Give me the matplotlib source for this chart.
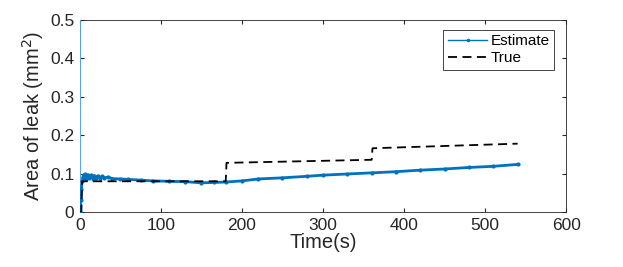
import matplotlib
matplotlib.use("Agg")
import matplotlib.pyplot as plt
from matplotlib.lines import Line2D

plt.rcParams['font.family'] = ['Liberation Sans', 'DejaVu Sans']

# estimate of leak area over time
est_t = [0, 0.3, 1, 2, 3, 4, 5, 6, 7, 8, 10, 12, 14, 16, 18, 20, 22, 25, 28, 30,
         35, 40, 50, 60, 75, 90, 110, 130, 150, 165, 180, 200, 220, 250, 280,
         300, 330, 360, 390, 420, 450, 480, 510, 540]
est_a = [0.6, 0.0, 0.03, 0.06, 0.08, 0.09, 0.097, 0.088, 0.098, 0.086, 0.097, 0.088,
         0.096, 0.087, 0.095, 0.089, 0.094, 0.088, 0.093, 0.089,
         0.091, 0.087, 0.086, 0.085, 0.083, 0.081, 0.080, 0.079, 0.076, 0.077,
         0.078, 0.081, 0.086, 0.089, 0.093, 0.096, 0.099, 0.102, 0.105,
         0.109, 0.112, 0.116, 0.119, 0.124]

# true leak area
true_t = [0, 2, 3, 180, 181, 360, 361, 540]
true_a = [0, 0.0, 0.08, 0.08, 0.128, 0.136, 0.166, 0.178]

fig = plt.figure(figsize=(6.23, 2.67), dpi=100)
ax = fig.add_axes([0.128, 0.206, 0.781, 0.719])

# first near-vertical drop from the initial guess (drawn thinner, like the reference)
ax.plot(est_t[:2], est_a[:2], color="#5DA9E0", lw=1.6, zorder=3)
ax.plot(est_t[1:], est_a[1:], color="#0072BD", lw=2, marker='.', markersize=4,
        zorder=3)
ax.plot(true_t, true_a, color="black", lw=1.3, linestyle=(0, (5, 3)), zorder=4)

ax.set_xlim(0, 600)
ax.set_ylim(0, 0.5)
ax.set_xticks([0, 100, 200, 300, 400, 500, 600])
ax.set_yticks([0, 0.1, 0.2, 0.3, 0.4, 0.5])
ax.set_yticklabels(["0", "0.1", "0.2", "0.3", "0.4", "0.5"])
ax.tick_params(direction='in', top=True, right=True, labelsize=12.5,
               colors="#262626", length=3, pad=4)
for s in ax.spines.values():
    s.set_color("#262626")
    s.set_linewidth(0.6)

ax.set_xlabel("Time(s)", fontsize=14.5, color="#262626", labelpad=0)
ax.set_ylabel("Area of leak (mm$^2$)", fontsize=14.5, color="#262626", labelpad=3)

handles = [Line2D([], [], color="#0072BD", lw=1, marker='.', markersize=3),
           Line2D([], [], color="black", lw=1.3, linestyle=(0, (5, 3)))]
leg = ax.legend(handles, ["Estimate", "True"], loc="upper right",
                bbox_to_anchor=(0.975, 0.95), fontsize=11, fancybox=False,
                framealpha=1, edgecolor="#262626", handlelength=2.6,
                handletextpad=0.2, borderpad=0.3, labelspacing=0.2,
                borderaxespad=0)
leg.get_frame().set_linewidth(0.6)

fig.savefig("out.png", dpi=100)
